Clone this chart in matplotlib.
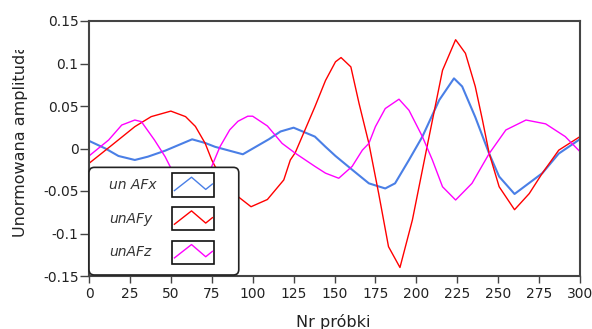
import matplotlib
matplotlib.use("Agg")
import matplotlib.pyplot as plt
from matplotlib.patches import FancyBboxPatch, Rectangle
from matplotlib.lines import Line2D
from matplotlib.transforms import Bbox, TransformedBbox

# nr probki / wartosc
afx_n = [0, 10, 18, 28, 36, 46.5, 63, 71, 77, 94, 110, 117, 125, 138, 144.5, 150.6, 160.8, 171,
         181, 187, 195.5, 203.7, 214, 223, 228, 236, 244.5, 250.6, 260, 277, 287, 300]
afx = [0.009, 0.0, -0.0088, -0.0135, -0.0096, -0.0026, 0.0108, 0.0065, 0.002, -0.0068, 0.011, 0.02,
       0.0245, 0.014, 0.002, -0.0088, -0.025, -0.041, -0.047, -0.041, -0.0135, 0.014, 0.057, 0.0825,
       0.073, 0.037, -0.006, -0.033, -0.0535, -0.029, -0.006, 0.011]

afy_n = [0, 14, 28, 38, 50, 59, 65, 71, 75, 77, 88, 99, 109, 119, 123, 126, 138, 144.5, 150.6, 154,
         160, 165, 171, 177, 183, 190, 197.6, 205.7, 216, 224, 230, 236, 240.4, 244.5, 250.6, 260,
         269, 277, 287, 300]
afy = [-0.0175, 0.004, 0.0257, 0.0375, 0.044, 0.0375, 0.026, 0.006, -0.0135, -0.021, -0.052, -0.0685,
       -0.06, -0.037, -0.0135, -0.005, 0.049, 0.08, 0.102, 0.107, 0.096, 0.053, 0.006, -0.053, -0.1155,
       -0.14, -0.084, -0.006, 0.092, 0.128, 0.112, 0.073, 0.0335, -0.0057, -0.045, -0.072, -0.053,
       -0.029, -0.002, 0.014]

afz_n = [0, 12, 20, 28, 32, 40, 46.5, 49.6, 56, 63, 70, 75, 80, 86, 91, 97, 100, 109, 118, 126, 138,
         144.5, 152.6, 160.8, 167, 171, 175, 181, 189.4, 195.5, 203.7, 209.8, 216, 224, 234, 244.5,
         254.7, 267, 279, 291, 300]
afz = [-0.0088, 0.01, 0.0276, 0.0335, 0.0316, 0.01, -0.0096, -0.0214, -0.04, -0.047, -0.038, -0.021,
       0.002, 0.022, 0.032, 0.038, 0.038, 0.0265, 0.006, -0.0055, -0.021, -0.029, -0.035, -0.021,
       -0.002, 0.006, 0.0257, 0.047, 0.058, 0.045, 0.014, -0.0135, -0.045, -0.0606, -0.041, -0.006,
       0.0218, 0.0335, 0.029, 0.014, -0.0037]

nazwy = ["un AFx", "unAFy", "unAFz"]
kolory = ["#4a7fe6", "#ff0000", "#ff00ff"]
grubosci = [1.5, 1.0, 1.0]

x_ticks = list(range(0, 301, 25))
y_ticks = [-0.15, -0.1, -0.05, 0, 0.05, 0.1, 0.15]
y_tick_labels = ["-0.15", "-0.1", "-0.05", "0", "0.05", "0.1", "0.15"]

fig = plt.figure(figsize=(5.92, 3.29), dpi=100)
ax = fig.add_axes([89 / 592, 1 - 276 / 329, 491 / 592, 255 / 329])

for n, v, c, lw in zip([afx_n, afy_n, afz_n], [afx, afy, afz], kolory, grubosci):
    ax.plot(n, v, color=c, lw=lw)

ax.set_xlim(0, 300)
ax.set_ylim(-0.15, 0.15)
ax.set_xticks(x_ticks)
ax.set_yticks(y_ticks)
ax.set_yticklabels(y_tick_labels)
for s in ax.spines.values():
    s.set_color("#444444")
    s.set_linewidth(1.5)
ax.tick_params(axis="y", length=6.5, width=1, pad=1, labelsize=10, colors="#444444", labelcolor="#222222")
ax.tick_params(axis="x", length=5, width=1, pad=3, labelsize=10, colors="#444444", labelcolor="#222222")

# opisy osi (obciete jak w oryginale)
ylab = fig.text(21 / 592, 1 - 237 / 329, "Unormowana amplituda", rotation=90,
                ha="center", va="bottom", fontsize=11.5, color="#222222")
ylab.set_clip_box(TransformedBbox(Bbox([[0, 0], [1, 1 - 50 / 329]]), fig.transFigure))
ylab.set_clip_on(True)
fig.text(333 / 592, 1 - 314 / 329, "Nr próbki", ha="center", va="top", fontsize=11.5, color="#222222")

# legenda w stylu LabVIEW
box = FancyBboxPatch((0.0, 0.004), 0.305, 0.422, boxstyle="round,pad=0,rounding_size=0.011",
                     mutation_aspect=1.92, transform=ax.transAxes, facecolor="white",
                     edgecolor="#222222", lw=1.2, zorder=5, clip_on=False)
ax.add_patch(box)
zyg_x = [0.05, 0.46, 0.8, 0.96]
zyg_y = [0.26, 0.83, 0.31, 0.54]
sw_x, sw_w, sw_h = 0.1697, 0.085, 0.092
for i, (nm, c) in enumerate(zip(nazwy, kolory)):
    yb = 0.311 - i * 0.132
    ax.add_patch(Rectangle((sw_x, yb), sw_w, sw_h, transform=ax.transAxes, facecolor="white",
                           edgecolor="#111111", lw=1.2, zorder=6))
    ax.add_line(Line2D([sw_x + sw_w * t for t in zyg_x], [yb + sw_h * t for t in zyg_y],
                       transform=ax.transAxes, color=c, lw=1.0, zorder=7))
    ax.text(0.0407, yb + sw_h / 2, nm, transform=ax.transAxes, ha="left", va="center",
            fontsize=10, style="italic", color="#333333", zorder=7)

fig.savefig("out.png", dpi=100)
